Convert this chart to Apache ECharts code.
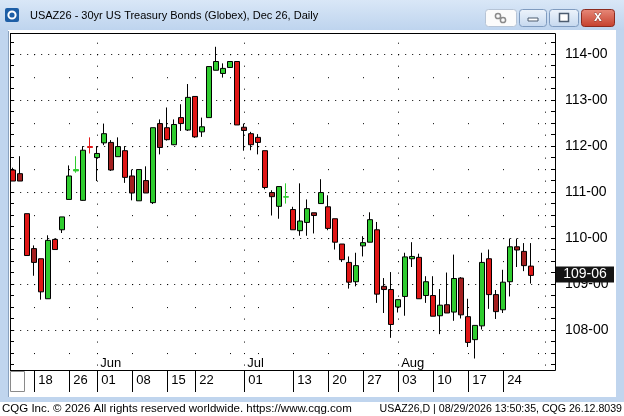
<!DOCTYPE html>
<html>
<head>
  <meta charset="utf-8">
  <title>USAZ26 - 30yr US Treasury Bonds (Globex), Dec 26, Daily</title>
  <script src="https://cdn.jsdelivr.net/npm/echarts@6/dist/echarts.min.js"></script>
  <style>
    html, body { margin: 0; padding: 0; background: #fff; }
    #main { width: 624px; height: 416px; }
  </style>
</head>
<body>
  <div id="main"></div>
  <script type="text/javascript">
    // trading days (the last three are empty future days on the axis)
    var dates = [
      '2026-05-13', '2026-05-14', '2026-05-15', '2026-05-18', '2026-05-19', '2026-05-20', '2026-05-21', '2026-05-22',
      '2026-05-26', '2026-05-27', '2026-05-28', '2026-05-29',
      '2026-06-01', '2026-06-02', '2026-06-03', '2026-06-04', '2026-06-05', '2026-06-08', '2026-06-09', '2026-06-10',
      '2026-06-11', '2026-06-12', '2026-06-15', '2026-06-16', '2026-06-17', '2026-06-18', '2026-06-22', '2026-06-23',
      '2026-06-24', '2026-06-25', '2026-06-26', '2026-06-29', '2026-06-30',
      '2026-07-01', '2026-07-02', '2026-07-06', '2026-07-07', '2026-07-08', '2026-07-09', '2026-07-10', '2026-07-13',
      '2026-07-14', '2026-07-15', '2026-07-16', '2026-07-17', '2026-07-20', '2026-07-21', '2026-07-22', '2026-07-23',
      '2026-07-24', '2026-07-27', '2026-07-28', '2026-07-29', '2026-07-30', '2026-07-31',
      '2026-08-03', '2026-08-04', '2026-08-05', '2026-08-06', '2026-08-07', '2026-08-10', '2026-08-11', '2026-08-12',
      '2026-08-13', '2026-08-14', '2026-08-17', '2026-08-18', '2026-08-19', '2026-08-20', '2026-08-21', '2026-08-24',
      '2026-08-25', '2026-08-26', '2026-08-27', '2026-08-28',
      '2026-08-31', '2026-09-01', '2026-09-02'
    ];

    var opens = [
      111.48, 111.40, 110.53, 109.77, 109.55, 108.68, 109.97, 110.18, 110.84, 111.46, 110.82, 111.99,
      111.75, 112.07, 112.08, 111.77, 111.90, 111.35, 110.81, 111.25, 110.77, 112.49, 112.40, 112.03,
      112.62, 112.35, 113.08, 112.31, 112.62, 113.65, 113.58, 113.71, 113.84,
      112.41, 112.27, 112.19, 111.90, 110.99, 110.69, 110.89, 110.62, 110.16, 110.34, 110.55, 110.75,
      110.68, 110.42, 109.87, 109.47, 109.05, 109.83, 109.91, 110.18, 108.95, 108.88,
      108.50, 108.73, 109.55, 109.58, 108.75, 108.75, 108.31, 108.55, 108.39, 109.13, 108.29, 107.79,
      108.09, 109.55, 108.77, 108.44, 109.05, 109.81, 109.71, 109.39
    ];
    var closes = [
      111.24, 111.24, 109.62, 109.47, 108.83, 109.95, 109.75, 110.46, 111.35, 111.49, 111.91, 111.97,
      111.84, 112.27, 111.48, 111.99, 111.32, 110.98, 111.49, 110.98, 112.40, 111.97, 112.14, 112.47,
      112.49, 113.06, 112.20, 112.42, 113.73, 113.84, 113.69, 113.84, 112.46,
      112.34, 112.03, 112.08, 111.10, 110.90, 111.12, 110.90, 110.18, 110.37, 110.64, 110.49, 110.99,
      110.21, 109.91, 109.53, 109.04, 109.40, 109.90, 110.40, 108.78, 108.88, 108.12,
      108.66, 109.59, 109.60, 108.68, 109.05, 108.30, 108.54, 108.37, 109.12, 108.33, 107.73, 108.10,
      109.47, 108.77, 108.40, 109.04, 109.81, 109.74, 109.40, 109.1875
    ];
    var lows = [
      111.24, 111.24, 109.62, 109.18, 108.66, 108.68, 109.75, 110.11, 110.84, 111.42, 110.81, 111.84,
      111.24, 112.02, 111.46, 111.77, 111.20, 110.82, 110.81, 110.98, 110.74, 111.82, 112.12, 112.02,
      112.33, 112.33, 112.18, 112.20, 112.62, 113.65, 113.49, 113.71, 112.46,
      111.90, 111.91, 111.82, 111.06, 110.49, 110.42, 110.75, 110.18, 110.05, 110.05, 110.10, 110.75,
      110.17, 109.75, 109.48, 108.90, 108.95, 109.60, 109.91, 108.59, 108.37, 107.83,
      108.38, 108.31, 109.37, 108.68, 108.59, 108.30, 107.91, 108.37, 108.20, 108.25, 107.63, 107.38,
      108.01, 108.46, 108.24, 108.37, 108.73, 109.37, 109.28, 109.01
    ];
    var highs = [
      111.53, 111.78, 110.53, 109.84, 109.55, 110.06, 109.99, 110.46, 111.58, 111.78, 112.00, 112.19,
      112.00, 112.49, 112.13, 112.19, 112.00, 111.49, 111.49, 111.56, 112.40, 112.58, 112.84, 112.58,
      112.91, 113.35, 113.08, 112.62, 113.73, 114.16, 113.80, 113.84, 113.84,
      112.49, 112.31, 112.26, 111.90, 111.04, 111.12, 111.19, 110.68, 111.19, 110.84, 110.55, 111.28,
      110.93, 110.42, 109.87, 109.60, 109.68, 110.04, 110.56, 110.35, 109.13, 109.26,
      108.66, 109.68, 109.91, 109.66, 109.17, 109.17, 108.89, 109.25, 109.64, 109.15, 108.68, 108.10,
      109.68, 109.75, 108.87, 109.31, 109.99, 109.99, 109.89, 109.89
    ];

    // labelled days under the chart
    var dateTicks = [
      '2026-05-18', '2026-05-26', '2026-06-01', '2026-06-08', '2026-06-15', '2026-06-22', '2026-07-01',
      '2026-07-13', '2026-07-20', '2026-07-27', '2026-08-03', '2026-08-10', '2026-08-17', '2026-08-24'
    ];
    var monthNames = ['Jan', 'Feb', 'Mar', 'Apr', 'May', 'Jun', 'Jul', 'Aug', 'Sep', 'Oct', 'Nov', 'Dec'];

    // candles drawn in the darker red
    var darkDown = [1, 3, 14, 17, 19, 21, 33, 37, 43, 53, 62, 64, 69, 72, 73];

    var GREEN = '#2fcc2f';
    var RED = '#e01616';
    var DARK_RED = '#a31f1f';
    var FONT = '"Liberation Sans", Arial, sans-serif';

    function weekday(d) {
      return new Date(d + 'T00:00:00Z').getUTCDay();
    }

    var weekStart = {};
    var monthStart = {};
    for (var i = 1; i < dates.length; i++) {
      if (weekday(dates[i]) < weekday(dates[i - 1])) weekStart[dates[i]] = true;
      if (dates[i].slice(5, 7) !== dates[i - 1].slice(5, 7)) monthStart[dates[i]] = true;
    }
    var tickSet = {};
    dateTicks.forEach(function (d) { tickSet[d] = true; });

    // bond prices in points and 32nds
    function price32(v) {
      var whole = Math.floor(v + 1e-9);
      var t = Math.round((v - whole) * 32);
      return whole + '-' + (t < 10 ? '0' : '') + t;
    }
    function isWhole(v) {
      return Math.abs(v - Math.round(v)) < 1e-6;
    }

    var candles = opens.map(function (o, i) {
      var c = closes[i];
      var style = {};
      if (darkDown.indexOf(i) >= 0) style.color0 = DARK_RED;
      if (Math.abs(c - o) < 1 / 32) {
        var col = c >= o ? GREEN : (style.color0 || RED);
        style.borderColor = col;
        style.borderColor0 = col;
      }
      return { value: [o, c, lows[i], highs[i]], itemStyle: style };
    });

    var yMin = 107.13;
    var yMax = 114.46;

    var myChart = echarts.init(document.getElementById('main'));

    var option = {
      animation: false,
      backgroundColor: '#ffffff',
      grid: { left: 13.2, right: 71.8, top: 33, bottom: 46 },
      xAxis: [
        {
          type: 'category',
          data: dates,
          boundaryGap: false,
          position: 'bottom',
          axisLine: { show: false },
          axisTick: {
            show: true,
            interval: function (idx, v) { return !!tickSet[v]; },
            length: 22,
            lineStyle: { color: '#000' }
          },
          axisLabel: {
            interval: function (idx, v) { return !!tickSet[v]; },
            formatter: function (v) { return v.slice(8); },
            align: 'left',
            padding: [0, 0, 0, 4],
            margin: 4,
            color: '#000',
            fontSize: 13,
            fontFamily: FONT
          },
          splitLine: {
            show: true,
            interval: function (idx, v) { return !!weekStart[v]; },
            lineStyle: { color: '#000', width: 1, type: [1, 21.99], dashOffset: 1.79 }
          }
        },
        {
          type: 'category',
          data: dates,
          boundaryGap: false,
          position: 'bottom',
          axisLine: { show: false },
          axisTick: { show: false },
          axisLabel: {
            inside: true,
            interval: function (idx, v) { return !!monthStart[v] && idx < closes.length; },
            formatter: function (v) { return monthNames[+v.slice(5, 7) - 1]; },
            align: 'left',
            padding: [0, 0, 0, 3],
            margin: 0,
            color: '#000',
            fontSize: 13,
            fontFamily: FONT
          },
          splitLine: {
            show: true,
            interval: function (idx, v) { return !!monthStart[v]; },
            lineStyle: { color: '#000', width: 1, type: [1, 10.495], dashOffset: 1.79 }
          }
        }
      ],
      yAxis: [
        {
          type: 'value',
          position: 'right',
          offset: 2.8,
          min: yMin,
          max: yMax,
          splitNumber: 29,
          minInterval: 0.25,
          maxInterval: 0.25,
          axisLine: { show: false },
          axisTick: { show: true, inside: true, length: 4, lineStyle: { color: '#000' } },
          axisLabel: {
            formatter: function (v) { return isWhole(v) ? price32(v) : ''; },
            margin: 10,
            color: '#000',
            fontSize: 14,
            fontFamily: FONT
          },
          splitLine: { show: false }
        },
        {
          type: 'value',
          position: 'left',
          offset: 3.2,
          min: yMin,
          max: yMax,
          splitNumber: 29,
          minInterval: 0.25,
          maxInterval: 0.25,
          axisLine: { show: false },
          axisTick: { show: true, inside: true, length: 4, lineStyle: { color: '#000' } },
          axisLabel: { show: false },
          splitLine: { show: false }
        },
        {
          type: 'value',
          position: 'left',
          min: yMin,
          max: yMax,
          splitNumber: 7,
          minInterval: 1,
          maxInterval: 1,
          axisLine: { show: false },
          axisTick: { show: false },
          axisLabel: { show: false },
          splitLine: { show: true, lineStyle: { color: '#000', width: 1, type: [1, 6] } }
        }
      ],
      series: [{
        type: 'candlestick',
        xAxisIndex: 0,
        yAxisIndex: 0,
        data: candles,
        barWidth: 5,
        clip: false,
        itemStyle: {
          color: GREEN,
          color0: RED,
          borderColor: '#000',
          borderColor0: '#000',
          borderWidth: 1
        }
      }]
    };

    myChart.setOption(option);

    // window frame, title, footer and the last price tag
    var lastClose = closes[closes.length - 1];
    var lastY = myChart.convertToPixel({ yAxisIndex: 0 }, lastClose);
    var frameBlue = '#c0d5ee';

    function btnGradient(a, b) {
      return new echarts.graphic.LinearGradient(0, 0, 0, 1, [
        { offset: 0, color: a }, { offset: 1, color: b }
      ]);
    }

    var graphic = [
      { type: 'rect', shape: { x: 0, y: 0, width: 624, height: 30 }, style: { fill: btnGradient('#d9e7f7', '#bed4ee') } },
      { type: 'rect', shape: { x: 0, y: 30, width: 8, height: 372 }, style: { fill: frameBlue } },
      { type: 'line', shape: { x1: 8.5, y1: 31, x2: 8.5, y2: 397 }, style: { stroke: '#8aa2bf', lineWidth: 1 } },
      { type: 'rect', shape: { x: 616, y: 30, width: 8, height: 372 }, style: { fill: frameBlue } },
      { type: 'rect', shape: { x: 0, y: 397, width: 624, height: 5 }, style: { fill: frameBlue } },
      { type: 'rect', shape: { x: 0, y: 402, width: 624, height: 14 }, style: { fill: '#ffffff' } },

      { type: 'rect', shape: { x: 5, y: 8, width: 14, height: 14, r: 2 }, style: { fill: '#1d5ea6' } },
      { type: 'circle', shape: { cx: 12, cy: 15, r: 3.6 }, style: { fill: 'none', stroke: '#ffffff', lineWidth: 2 } },
      {
        type: 'text', style: {
          text: 'USAZ26 - 30yr US Treasury Bonds (Globex), Dec 26, Daily', x: 30, y: 16,
          fill: '#000', font: '11px ' + FONT, align: 'left', verticalAlign: 'middle'
        }
      },

      { type: 'rect', shape: { x: 485.5, y: 9.5, width: 31, height: 17, r: 3 }, style: { fill: '#fbfbfb', stroke: '#b6c4d6' } },
      { type: 'circle', shape: { cx: 498, cy: 16, r: 2.6 }, style: { fill: 'none', stroke: '#8a8a8a', lineWidth: 1.5 } },
      { type: 'circle', shape: { cx: 503, cy: 20, r: 2.6 }, style: { fill: 'none', stroke: '#8a8a8a', lineWidth: 1.5 } },
      { type: 'rect', shape: { x: 519.5, y: 9.5, width: 27, height: 17, r: 3 }, style: { fill: btnGradient('#eef4fb', '#c5d8ef'), stroke: '#7f9bbf' } },
      { type: 'rect', shape: { x: 528, y: 18, width: 10, height: 3 }, style: { fill: '#ffffff', stroke: '#4c5c70', lineWidth: 1 } },
      { type: 'rect', shape: { x: 549.5, y: 9.5, width: 29, height: 17, r: 3 }, style: { fill: btnGradient('#eef4fb', '#c5d8ef'), stroke: '#7f9bbf' } },
      { type: 'rect', shape: { x: 559.5, y: 13.5, width: 9, height: 8 }, style: { fill: '#ffffff', stroke: '#4c5c70', lineWidth: 1.5 } },
      { type: 'rect', shape: { x: 581.5, y: 9.5, width: 33, height: 17, r: 3 }, style: { fill: btnGradient('#e78a7a', '#c53f2c'), stroke: '#8c2a1e' } },
      {
        type: 'text', style: {
          text: 'x', x: 598, y: 17, fill: '#ffffff', font: 'bold 14px ' + FONT,
          align: 'center', verticalAlign: 'middle', stroke: '#5a1a12', lineWidth: 0.6
        }
      },

      {
        type: 'text', style: {
          text: 'CQG Inc. \u00a9 2026 All rights reserved worldwide. https://www.cqg.com', x: 2, y: 409,
          fill: '#000', font: '11.5px ' + FONT, align: 'left', verticalAlign: 'middle'
        }
      },
      {
        type: 'text', style: {
          text: 'USAZ26,D | 08/29/2026 13:50:35, CQG 26.12.8039', x: 622, y: 409,
          fill: '#000', font: '10.6px ' + FONT, align: 'right', verticalAlign: 'middle'
        }
      },

      { type: 'rect', z: 100, shape: { x: 10.5, y: 33.5, width: 545, height: 337 }, style: { fill: 'none', stroke: '#000', lineWidth: 1 } },
      { type: 'rect', z: 100, shape: { x: 10.5, y: 371.5, width: 14, height: 20 }, style: { fill: '#ffffff', stroke: '#8a8a8a', lineWidth: 1 } },

      { type: 'rect', z: 100, shape: { x: 556, y: lastY - 9, width: 58, height: 16 }, style: { fill: '#141414' } },
      {
        type: 'text', z: 101, style: {
          text: price32(lastClose), x: 585, y: lastY - 1, fill: '#ffffff', font: '14px ' + FONT,
          align: 'center', verticalAlign: 'middle'
        }
      }
    ];

    myChart.setOption({ graphic: graphic });
  </script>
</body>
</html>
